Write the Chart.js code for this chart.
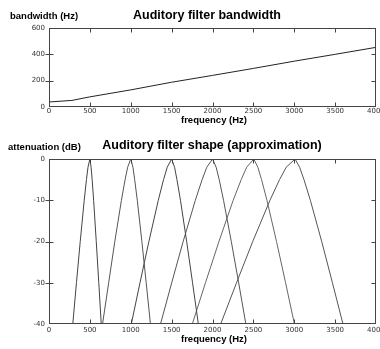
<!DOCTYPE html>
<html>
<head>
<meta charset="utf-8">
<script src="https://cdn.jsdelivr.net/npm/chart.js@4"></script>
<style>
  html, body { margin: 0; padding: 0; background: #fff; }
  #wrap { position: relative; width: 380px; height: 349px; overflow: hidden; }
  #bw-chart { position: absolute; left: 0; top: 0; }
  #shape-chart { position: absolute; left: 0; top: 130px; }
</style>
</head>
<body>
<div id="wrap">
  <canvas id="bw-chart" width="380" height="130" style="width:380px;height:130px"></canvas>
  <canvas id="shape-chart" width="380" height="219" style="width:380px;height:219px"></canvas>
</div>
<script>
// --- top panel: bandwidth vs centre frequency
const bandwidthFreqs = [0, 280, 500, 1000, 1500, 2000, 2500, 3000, 3500, 4000];
const bandwidthHz    = [38, 50, 77, 130, 188, 240, 293, 348, 400, 453];

// --- bottom panel: filter shapes, each a list of freqs at these levels (dB)
const shapeLevels = [-40, -30, -20, -10, -5, -2, 0, -2, -5, -10, -20, -30, -40];
const filter500  = [291, 336, 382, 431, 458, 477, 500, 515, 528, 546, 578, 609, 639];
const filter1000 = [655, 730, 805, 886, 931, 962, 1000, 1027, 1048, 1080, 1136, 1189, 1241];
const filter1500 = [1007, 1113, 1222, 1337, 1401, 1446, 1500, 1536, 1565, 1608, 1684, 1756, 1827];
const filter2000 = [1364, 1501, 1641, 1790, 1873, 1930, 2000, 2045, 2082, 2135, 2230, 2320, 2408];
const filter2500 = [1753, 1914, 2079, 2253, 2351, 2418, 2505, 2555, 2600, 2666, 2783, 2894, 3002];
const filter3000 = [2100, 2294, 2492, 2703, 2820, 2901, 3010, 3066, 3119, 3197, 3336, 3467, 3596];
const filterColors = ['#444', '#555', '#444', '#555', '#666', '#555'];

const freqTicks   = [500, 1000, 1500, 2000, 2500, 3000, 3500];
const bwTicks     = [200, 400];
const shapeTicks  = [-10, -20, -30];

const tickFont = { size: 7, family: '"DejaVu Sans", sans-serif' };
const boldFont = '"Liberation Sans", Arial, sans-serif';

// box around the plot, inward ticks, and the titles
const frame = {
  id: 'frame',
  afterDatasetsDraw(chart, args, o) {
    const { ctx, chartArea: a, scales: { x, y } } = chart;
    const L = Math.round(a.left) + 0.5, R = Math.round(a.right) - 0.5;
    const T = Math.round(a.top) + 0.5, B = Math.round(a.bottom) - 0.5;
    ctx.save();
    ctx.strokeStyle = '#444';
    ctx.lineWidth = 1;
    ctx.strokeRect(L, T, R - L, B - T);
    ctx.beginPath();
    o.xTicks.forEach(v => {
      const px = Math.round(x.getPixelForValue(v)) + 0.5;
      ctx.moveTo(px, T); ctx.lineTo(px, T + 4);
      ctx.moveTo(px, B); ctx.lineTo(px, B - 4);
    });
    o.yTicks.forEach(v => {
      const py = Math.round(y.getPixelForValue(v)) + 0.5;
      ctx.moveTo(L - 4, py); ctx.lineTo(L + 4, py);
      ctx.moveTo(R, py); ctx.lineTo(R - 4, py);
    });
    ctx.stroke();

    ctx.fillStyle = '#000';
    ctx.textBaseline = 'alphabetic';
    ctx.font = 'bold 12.5px ' + boldFont;
    ctx.textAlign = 'center';
    ctx.fillText(o.title, o.titleX, o.titleY);
    ctx.font = 'bold 9.5px ' + boldFont;
    ctx.fillText('frequency (Hz)', o.xTitleX, o.xTitleY);
    ctx.textAlign = 'left';
    ctx.fillText(o.yTitle, o.yTitleX, o.yTitleY);
    ctx.restore();
  }
};

function xScale(labelPad) {
  return {
    type: 'linear', min: 0, max: 4000,
    grid: { display: false, drawTicks: false },
    border: { display: false },
    ticks: {
      stepSize: 500, padding: labelPad, font: tickFont, color: '#333', maxRotation: 0, autoSkip: false,
      callback: v => String(v)
    },
    afterFit(s) { s.height = labelPad > 1 ? 25 : 23; s.paddingLeft = 0; s.paddingRight = 0; }
  };
}

function yScale(min, max, step) {
  return {
    min, max,
    grid: { display: false, drawTicks: false },
    border: { display: false },
    ticks: { stepSize: step, padding: 4, font: tickFont, color: '#333', callback: v => String(v) },
    afterFit(s) { s.width = 49; s.paddingTop = 0; s.paddingBottom = 0; }
  };
}

new Chart(document.getElementById('bw-chart'), {
  type: 'line',
  data: {
    datasets: [{
      data: bandwidthFreqs.map((f, i) => ({ x: f, y: bandwidthHz[i] })),
      borderColor: '#222', borderWidth: 1, pointRadius: 0, tension: 0
    }]
  },
  options: {
    responsive: false, animation: false,
    layout: { padding: { top: 28, right: 4, left: 0, bottom: 0 } },
    plugins: {
      legend: { display: false }, tooltip: { enabled: false },
      frame: {
        xTicks: freqTicks, yTicks: bwTicks,
        title: 'Auditory filter bandwidth', titleX: 207, titleY: 18.5,
        yTitle: 'bandwidth (Hz)', yTitleX: 10, yTitleY: 18.5,
        xTitleX: 214, xTitleY: 123
      }
    },
    scales: { x: xScale(0), y: yScale(0, 600, 200) }
  },
  plugins: [frame]
});

const filters = [filter500, filter1000, filter1500, filter2000, filter2500, filter3000];

new Chart(document.getElementById('shape-chart'), {
  type: 'line',
  data: {
    datasets: filters.map((freqs, k) => ({
      data: freqs.map((f, i) => ({ x: f, y: shapeLevels[i] })),
      borderColor: filterColors[k], borderWidth: 1, pointRadius: 0, tension: 0
    }))
  },
  options: {
    responsive: false, animation: false,
    layout: { padding: { top: 29, right: 4, left: 0, bottom: 0 } },
    plugins: {
      legend: { display: false }, tooltip: { enabled: false },
      frame: {
        xTicks: freqTicks, yTicks: shapeTicks,
        title: 'Auditory filter shape (approximation)', titleX: 212, titleY: 19,
        yTitle: 'attenuation (dB)', yTitleX: 8, yTitleY: 20,
        xTitleX: 214, xTitleY: 212
      }
    },
    scales: { x: xScale(1.5), y: yScale(-40, 0, 10) }
  },
  plugins: [frame]
});
</script>
</body>
</html>
